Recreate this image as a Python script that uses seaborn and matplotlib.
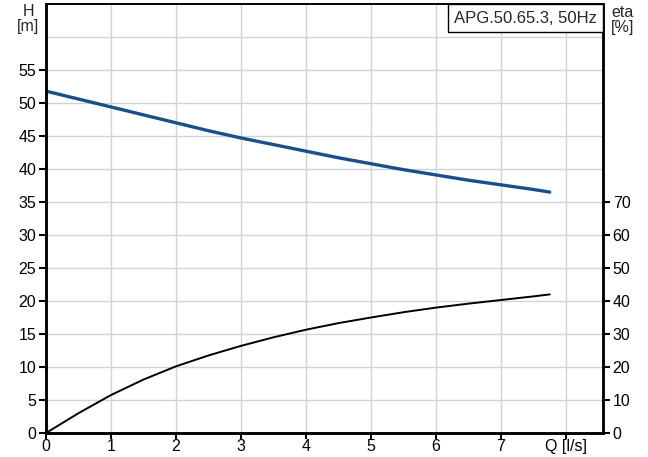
import matplotlib
matplotlib.use("Agg")
import matplotlib.pyplot as plt
import matplotlib.patches as mpatches
import seaborn as sns
import pandas as pd

sns.set_theme(style="white")
plt.rcParams['font.family'] = ['Liberation Sans', 'DejaVu Sans']

q = [0, 0.5, 1, 1.5, 2, 2.5, 3, 3.5, 4, 4.5, 5, 5.5, 6, 6.5, 7, 7.5, 7.75]
head = [51.8, 50.6, 49.4, 48.2, 47.0, 45.8, 44.7, 43.7, 42.7, 41.7, 40.8, 39.9, 39.1, 38.3, 37.6, 36.9, 36.5]
eta = [0, 6.0, 11.5, 16.2, 20.2, 23.5, 26.4, 29.0, 31.3, 33.3, 35.0, 36.6, 38.0, 39.2, 40.3, 41.4, 42.0]
x_ticks = [0, 1, 2, 3, 4, 5, 6, 7, 8]
x_labels = ["0", "1", "2", "3", "4", "5", "6", "7", "Q [l/s]"]
h_ticks = [0, 5, 10, 15, 20, 25, 30, 35, 40, 45, 50, 55]
eta_ticks = [0, 10, 20, 30, 40, 50, 60, 70]
title = "APG.50.65.3, 50Hz"

df = pd.DataFrame({"Q": q, "H": head, "eta": eta})

fig = plt.figure(figsize=(6.48, 4.57), dpi=100)
ax = fig.add_axes([46/648, 24/457, 557/648, 429/457])
ax2 = ax.twinx()

sns.lineplot(data=df, x="Q", y="H", ax=ax, color="#1a4f8a", linewidth=2.4)
sns.lineplot(data=df, x="Q", y="eta", ax=ax2, color="black", linewidth=1.4)

ax.set_xlim(0, 8.57)
ax.set_ylim(0, 65)
ax2.set_ylim(0, 130)

# grid
for xv in x_ticks[1:]:
    ax.axvline(xv, color="#d0d4d8", linewidth=1.0, zorder=0)
for yv in range(5, 65, 5):
    ax.axhline(yv, color="#d0d4d8", linewidth=1.0, zorder=0)

ax.set_xticks(x_ticks)
ax.set_xticklabels(x_labels)
ax.set_yticks(h_ticks)
ax2.set_yticks(eta_ticks)
ax.set_xlabel("")
ax.set_ylabel("")
ax2.set_ylabel("")

ax.tick_params(axis="y", direction="out", length=5, width=1.5,
               colors="black", labelsize=11.5, pad=2, left=True)
ax.tick_params(axis="x", direction="out", length=4, width=1.5,
               colors="black", labelsize=11.5, pad=0.5, bottom=True)
ax2.tick_params(axis="y", direction="out", length=5, width=1.5, colors="black",
                labelsize=11.5, pad=2, right=True)

for a in (ax, ax2):
    for s in ["left", "bottom", "right"]:
        a.spines[s].set_color("black")
        a.spines[s].set_linewidth(1.8)
    a.spines["top"].set_color("black")
    a.spines["top"].set_linewidth(1.2)

fig.text(28/648, 1 - 19/457, "H\n[m]", ha="center", va="center", fontsize=11.5, linespacing=0.95)
fig.text(623/648, 1 - 20/457, "eta\n[%]", ha="center", va="center", fontsize=11.5, linespacing=0.95)

bx0 = (448 - 46) / 557
by0 = (433 - 32) / 429
rect = mpatches.Rectangle((bx0, by0), 1 - bx0, 1 - by0, transform=ax2.transAxes,
                          facecolor="white", edgecolor="black", linewidth=1.0, zorder=5,
                          clip_on=False)
ax2.add_patch(rect)
ax2.text((bx0 + 1) / 2, (by0 + 1) / 2, title, transform=ax2.transAxes, ha="center",
         va="center", fontsize=12, zorder=6)

fig.savefig("out.png", dpi=100)
